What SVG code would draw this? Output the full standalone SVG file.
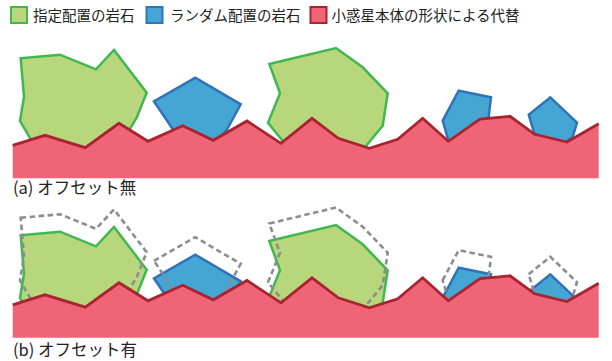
<svg xmlns="http://www.w3.org/2000/svg" xmlns:xlink="http://www.w3.org/1999/xlink" width="612" height="361" viewBox="0 0 612 361">
<style>
.txt{font-family:"Noto Sans CJK JP","Noto Sans",sans-serif;font-size:14.5px;fill:#222}
.lbl{font-family:"Noto Sans CJK JP","Noto Sans",sans-serif;font-size:16.5px;fill:#222}
.green{fill:#b8d77c;stroke:#41b752;stroke-width:2.5;stroke-linejoin:miter}
.blue{fill:#46a6d3;stroke:#2f74bb;stroke-width:2.5;stroke-linejoin:miter}
.dash{fill:none;stroke:#8c8c93;stroke-width:2.6;stroke-dasharray:5.5 3.5}
.gfill{fill:#f06477;stroke:none}
.gline{fill:none;stroke:#a8252f;stroke-width:2.8;stroke-linejoin:miter}
.lg{stroke-width:2}
</style>
<defs>
<polygon id="g1" points="20.7,58.3 60,54.7 96,69.3 114,50 146.7,92.7 136.7,117.7 128,132 86,152 31.7,141 20,121 24,96.7"/>
<polygon id="b1" points="154,101.3 195.3,77.7 240.7,104.3 226.7,130 212,148 180,140"/>
<polygon id="g2" points="269.3,64 336,48 362.7,67.3 387.7,93.3 382.7,125.7 364.3,148 320,152 282.7,141 268,122.7 280,93.3"/>
<polygon id="b2" points="442.7,120.7 458.7,90.7 491,97.3 488.7,116.7 470,142 450,146"/>
<polygon id="b3" points="528.7,114.7 550.3,97.3 577,122.7 572.7,137 560,146 534.3,133.3"/>
<polygon id="groundFill" points="12.7,145.3 45,135.3 85.3,147.7 119,123.3 148,141.3 182.7,125.7 213.3,140.3 247,121 281,143.3 312,118.3 338.3,138.3 369.3,148.3 397.7,139.3 422.7,118.3 448.3,141.3 480,119 510,116.3 534.7,134.3 567,142 598.7,123.7 598.7,178.3 12.7,178.3"/>
<polyline id="groundLine" points="12.7,145.3 45,135.3 85.3,147.7 119,123.3 148,141.3 182.7,125.7 213.3,140.3 247,121 281,143.3 312,118.3 338.3,138.3 369.3,148.3 397.7,139.3 422.7,118.3 448.3,141.3 480,119 510,116.3 534.7,134.3 567,142 598.7,123.7"/>
</defs>

<g id="legend">
<g id="legend-specified">
<rect x="11" y="7" width="16" height="16" class="green lg"/>
<text x="33" y="21" class="txt">指定配置の岩石</text>
</g>
<g id="legend-random">
<rect x="146.5" y="7" width="16" height="16" class="blue lg"/>
<text x="170" y="21" class="txt">ランダム配置の岩石</text>
</g>
<g id="legend-asteroid">
<rect x="310.5" y="7" width="16" height="16" class="gfill lg" style="stroke:#a8252f"/>
<text x="331.5" y="21" class="txt">小惑星本体の形状による代替</text>
</g>
</g>

<g id="panel-a">
<g id="a-rock-g1"><use xlink:href="#g1" class="green"/></g>
<g id="a-rock-b1"><use xlink:href="#b1" class="blue"/></g>
<g id="a-rock-g2"><use xlink:href="#g2" class="green"/></g>
<g id="a-rock-b2"><use xlink:href="#b2" class="blue"/></g>
<g id="a-rock-b3"><use xlink:href="#b3" class="blue"/></g>
<g id="a-ground"><use xlink:href="#groundFill" class="gfill"/><use xlink:href="#groundLine" class="gline"/></g>
<text id="a-label" x="13" y="194" class="lbl">(a) オフセット無</text>
</g>

<g id="panel-b">
<g transform="translate(0,177)">
<g id="b-rock-g1"><use xlink:href="#g1" class="green"/></g>
<g id="b-rock-b1"><use xlink:href="#b1" class="blue"/></g>
<g id="b-rock-g2"><use xlink:href="#g2" class="green"/></g>
<g id="b-rock-b2"><use xlink:href="#b2" class="blue"/></g>
<g id="b-rock-b3"><use xlink:href="#b3" class="blue"/></g>
</g>
<g id="b-offsets" transform="translate(0,159.5)">
<use xlink:href="#g1" class="dash"/>
<use xlink:href="#b1" class="dash"/>
<use xlink:href="#g2" class="dash"/>
<use xlink:href="#b2" class="dash"/>
<use xlink:href="#b3" class="dash"/>
</g>
<g id="b-ground" transform="translate(0,159.5)"><use xlink:href="#groundFill" class="gfill"/><use xlink:href="#groundLine" class="gline"/></g>
<text id="b-label" x="13" y="356" class="lbl">(b) オフセット有</text>
</g>
</svg>
